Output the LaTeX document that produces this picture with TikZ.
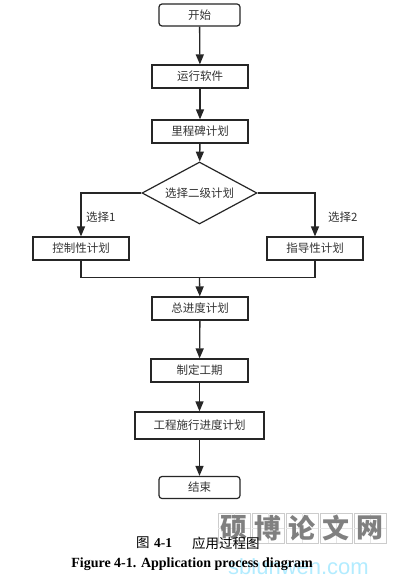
\documentclass[tikz,border=0pt]{standalone}
\usepackage{fontspec}
\setmainfont{Liberation Serif}
\newfontfamily\cjk{Noto Sans CJK SC}
\usetikzlibrary{arrows.meta,shapes.geometric}
\begin{document}
\begin{tikzpicture}[x=1pt,y=-1pt,
  box/.style={draw=black!85,line width=1.2pt,minimum height=23pt,inner sep=0pt,font=\cjk\fontsize{11.5}{12}\selectfont,text=black!80},
  term/.style={box,rounded corners=3pt,minimum width=81pt,minimum height=22pt},
  flow/.style={draw=black!85,line width=1.3pt,-{Triangle[length=10pt,width=8pt]}},
  link/.style={draw=black!85,line width=1.3pt},
  lbl/.style={font=\cjk\fontsize{11.5}{12}\selectfont,text=black!80,inner sep=0pt},
  captxt/.style={inner sep=0pt,anchor=west,font=\fontsize{13.5}{14}\selectfont}]
\useasboundingbox (0,0) rectangle (409,583);
\fill[white] (0,0) rectangle (409,583);
\node[term] (start) at (199.5,15) {开始};
\node[box,minimum width=96pt] (run) at (200,76.5) {运行软件};
\node[box,minimum width=96pt] (mile) at (200,131.5) {里程碑计划};
\node[draw=black!85,line width=1.2pt,diamond,aspect=1.85,minimum width=115pt,minimum height=62pt,inner sep=0pt,font=\cjk\fontsize{11.5}{12}\selectfont,text=black!80] (dec) at (199.5,193) {选择二级计划};
\node[box,minimum width=96pt] (ctrl) at (81,248.5) {控制性计划};
\node[box,minimum width=96pt] (guide) at (315,248.5) {指导性计划};
\node[box,minimum width=96pt] (total) at (200,308.5) {总进度计划};
\node[box,minimum width=97pt] (period) at (199.5,370.5) {制定工期};
\node[box,minimum width=129pt,minimum height=27pt] (exec) at (199.5,425.5) {工程施行进度计划};
\node[term] (end) at (199.5,487.5) {结束};
\coordinate (m) at (199.5,277.5);
\draw[flow] (start) -- (run);
\draw[flow] (run) -- (mile);
\draw[flow] (mile) -- (dec);
\draw[flow] (dec.west) -| (ctrl.north);
\draw[flow] (dec.east) -| (guide.north);
\node[lbl,anchor=west] (l1) at (86,217.5) {选择1};
\node[lbl,anchor=west] (l2) at (328,217.5) {选择2};
\draw[link] (ctrl.south) |- (m) -| (guide.south);
\draw[flow] (m) -- (total);
\draw[flow] (total) -- (period);
\draw[flow] (period) -- (exec);
\draw[flow] (exec) -- (end);
% watermark
\foreach \i/\c in {0/硕,1/博,2/论,3/文,4/网}{
  \draw[black!20,line width=0.6pt] (218+34*\i,513) rectangle ++(32,30);
  \draw[black!10,line width=0.4pt] (234+34*\i,513) -- ++(0,30) (218+34*\i,528) -- ++(32,0);
  \node[font=\cjk\bfseries\fontsize{27}{28}\selectfont,text=black!50,inner sep=0pt] (w\i) at (234+34*\i,528) {\c};
}
\node[font=\fontspec{Liberation Sans}\fontsize{22}{24}\selectfont,text=blue!25!cyan!30,inner sep=0pt,anchor=west] (url) at (228,567) {sblunwen.com};
% caption
\node[captxt] (cap1a) at (136,543) {\cjk 图};
\node[captxt] (cap1b) at (154,543) {\textbf{4-1}};
\node[captxt] (cap1c) at (192,543) {\cjk 应用过程图};
\node[inner sep=0pt,font=\bfseries\fontsize{14}{15}\selectfont] (cap2) at (192,564) {Figure 4-1. Application process diagram};
\end{tikzpicture}
\end{document}
